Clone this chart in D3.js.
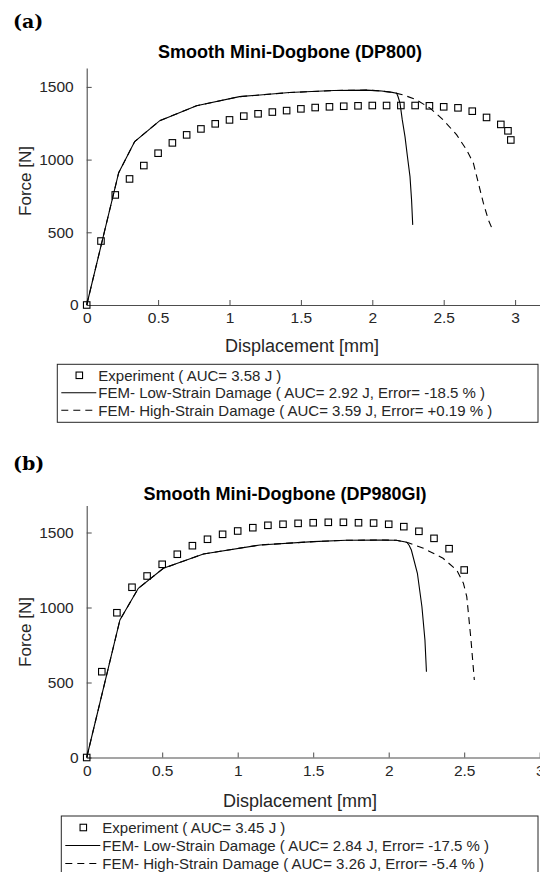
<!DOCTYPE html>
<html>
<head>
<meta charset="utf-8">
<script src="https://cdn.jsdelivr.net/npm/d3@7"></script>
<style>
  body { margin: 0; background: #fff; }
  svg { display: block; }
  text { font-family: 'Liberation Sans', Arial, sans-serif; fill: #262626; }
  .panel-tag { font-family: 'DejaVu Serif', serif; font-weight: bold; fill: #000; }
</style>
</head>
<body>
<div id="wrapper"></div>
<script>
// ---- data: panel (a) DP800 ----
const expDispA = [0, 0.1, 0.2, 0.3, 0.4, 0.5, 0.6, 0.7, 0.8, 0.9, 1.0, 1.1, 1.2, 1.3, 1.4, 1.5,
  1.6, 1.7, 1.8, 1.9, 2.0, 2.1, 2.2, 2.3, 2.4, 2.5, 2.6, 2.7, 2.8, 2.9, 2.95, 2.97]
const expForceA = [0, 440, 757, 867, 959, 1044, 1115, 1170, 1211, 1246, 1273, 1299, 1315, 1327, 1337, 1349,
  1358, 1363, 1367, 1370, 1372, 1372, 1372, 1372, 1370, 1363, 1356, 1333, 1290, 1242, 1198, 1135]
const lowDispA = [0, 0.224, 0.336, 0.512, 0.769, 1.07, 1.42, 1.73, 1.96, 2.05, 2.13, 2.17, 2.18,
  2.194, 2.21, 2.229, 2.246, 2.264, 2.275, 2.283]
const lowForceA = [0, 910, 1124, 1268, 1370, 1433, 1461, 1475, 1478, 1473, 1464, 1457, 1434,
  1388, 1273, 1158, 1021, 883, 722, 551]
const highDispA = [0, 0.224, 0.336, 0.512, 0.769, 1.07, 1.42, 1.73, 1.96, 2.05, 2.147, 2.217, 2.31,
  2.404, 2.497, 2.591, 2.66, 2.708, 2.743, 2.778, 2.813, 2.848]
const highForceA = [0, 910, 1124, 1268, 1370, 1433, 1461, 1475, 1478, 1473, 1461, 1445, 1411,
  1354, 1273, 1170, 1067, 975, 838, 700, 585, 504]

// ---- data: panel (b) DP980GI ----
const expDispB = [0, 0.1, 0.2, 0.3, 0.4, 0.5, 0.6, 0.7, 0.8, 0.9, 1.0, 1.1, 1.2, 1.3, 1.4, 1.5,
  1.6, 1.7, 1.8, 1.9, 2.0, 2.1, 2.2, 2.3, 2.4, 2.5]
const expForceB = [0, 572, 965, 1135, 1210, 1288, 1355, 1412, 1455, 1488, 1510, 1532, 1548, 1555, 1561, 1565,
  1568, 1568, 1565, 1563, 1555, 1539, 1508, 1461, 1392, 1250]
const lowDispB = [0, 0.22, 0.342, 0.508, 0.773, 1.148, 1.5, 1.72, 1.94, 2.05, 2.12, 2.135, 2.15,
  2.19, 2.22, 2.24, 2.25]
const lowForceB = [0, 917, 1128, 1261, 1357, 1417, 1439, 1448, 1450, 1448, 1435, 1415, 1383,
  1228, 1005, 783, 572]
const highDispB = [0, 0.22, 0.342, 0.508, 0.773, 1.148, 1.5, 1.72, 1.94, 2.05, 2.13, 2.23, 2.36,
  2.45, 2.495, 2.517, 2.53, 2.545, 2.556, 2.567]
const highForceB = [0, 917, 1128, 1261, 1357, 1417, 1439, 1448, 1450, 1448, 1432, 1395, 1328,
  1250, 1161, 1072, 939, 783, 650, 517]

// ---- ticks and labels ----
const xTicks = [0, 0.5, 1, 1.5, 2, 2.5, 3]
const yTicks = [0, 500, 1000, 1500]
const legendA = ['Experiment ( AUC= 3.58 J )',
  'FEM- Low-Strain Damage ( AUC= 2.92 J, Error= -18.5 % )',
  'FEM- High-Strain Damage ( AUC= 3.59 J, Error= +0.19 % )']
const legendB = ['Experiment ( AUC= 3.45 J )',
  'FEM- Low-Strain Damage ( AUC= 2.84 J, Error= -17.5 % )',
  'FEM- High-Strain Damage ( AUC= 3.26 J, Error= -5.4 % )']

const zip = (xs, ys) => xs.map((x, i) => ({ x: x, y: ys[i] }))

const svg = d3.select('#wrapper').append('svg')
  .attr('width', 540).attr('height', 872)

function drawPanel(p) {
  const g = svg.append('g')

  g.append('text').attr('class', 'panel-tag')
    .attr('x', 13).attr('y', p.tagY).style('font-size', '19px').text(p.tag)

  g.append('text')
    .attr('x', p.titleX).attr('y', p.titleY)
    .attr('text-anchor', 'middle')
    .style('font-size', '18px').style('font-weight', 'bold').style('fill', '#000')
    .text(p.title)

  const xScale = d3.scaleLinear().domain([0, 3.5])
    .range([p.left, p.left + 3.5 * p.xUnit])
  const yScale = d3.scaleLinear().domain([0, p.yMax])
    .range([p.bottom, p.bottom - p.yMax * p.yUnit])

  // axes (MATLAB-like, ticks inward, box off)
  const xAxis = g.append('g')
    .attr('transform', `translate(0,${p.bottom})`)
    .call(d3.axisBottom(xScale).tickValues(xTicks).tickSizeInner(-5).tickSizeOuter(0)
      .tickPadding(9).tickFormat(d3.format('')))
  const yAxis = g.append('g')
    .attr('transform', `translate(${p.left},0)`)
    .call(d3.axisLeft(yScale).tickValues(yTicks).tickSizeInner(-5).tickSizeOuter(0)
      .tickPadding(13).tickFormat(d3.format('')))
  ;[xAxis, yAxis].forEach((ax) => {
    ax.select('.domain').attr('stroke', '#4d4d4d').attr('stroke-width', 1.1)
    ax.selectAll('.tick line').attr('stroke', '#4d4d4d').attr('stroke-width', 1)
    ax.selectAll('.tick text').style('font-size', '15.5px').style('fill', '#262626')
      .style('font-family', "'Liberation Sans', Arial, sans-serif")
  })
  xAxis.selectAll('.tick text').attr('dy', '0.6em')
  yAxis.selectAll('.tick text').filter((d) => d === 0).attr('x', -8)

  g.append('text')
    .attr('x', p.xLabelX).attr('y', p.xLabelY).attr('text-anchor', 'middle')
    .style('font-size', '18px').text('Displacement [mm]')
  g.append('text')
    .attr('transform', `translate(${p.yLabelX},${p.yLabelY}) rotate(-90)`)
    .attr('text-anchor', 'middle')
    .style('font-size', '17px').text('Force [N]')

  const line = d3.line().x((d) => xScale(d.x)).y((d) => yScale(d.y))

  g.append('path').datum(zip(p.highDisp, p.highForce))
    .attr('d', line).attr('fill', 'none').attr('stroke', '#000')
    .attr('stroke-width', 1.1).attr('stroke-dasharray', '7,5')
  g.append('path').datum(zip(p.lowDisp, p.lowForce))
    .attr('d', line).attr('fill', 'none').attr('stroke', '#000')
    .attr('stroke-width', 1.1)

  const ms = 6.5
  g.selectAll('.exp').data(zip(p.expDisp, p.expForce)).enter()
    .append('rect').attr('class', 'exp')
    .attr('x', (d) => xScale(d.x) - ms / 2).attr('y', (d) => yScale(d.y) - ms / 2)
    .attr('width', ms).attr('height', ms)
    .attr('fill', 'none').attr('stroke', '#000').attr('stroke-width', 1.1)

  // legend
  const lg = g.append('g').attr('transform', `translate(${p.legX},${p.legY})`)
  lg.append('rect').attr('x', 0).attr('y', 0)
    .attr('width', 538 - p.legX).attr('height', p.legH)
    .attr('fill', '#fff').attr('stroke', '#262626').attr('stroke-width', 1)
  p.legend.forEach((label, i) => {
    const cy = p.legRow0 + i * p.legStep
    if (i === 0) {
      lg.append('rect').attr('x', 22 - ms / 2).attr('y', cy - ms / 2)
        .attr('width', ms).attr('height', ms)
        .attr('fill', 'none').attr('stroke', '#000').attr('stroke-width', 1.1)
    } else {
      lg.append('line').attr('x1', 4).attr('x2', 39).attr('y1', cy).attr('y2', cy)
        .attr('stroke', '#000').attr('stroke-width', 1.1)
        .attr('stroke-dasharray', i === 2 ? '7,5' : null)
    }
    lg.append('text').attr('x', 41).attr('y', cy).attr('dy', '0.35em')
      .style('font-size', '15px').text(label)
  })
}

drawPanel({
  tag: '(a)', tagY: 28, title: 'Smooth Mini-Dogbone (DP800)', titleX: 290, titleY: 58,
  left: 86.7, bottom: 305, xUnit: 142.8, yUnit: 72.7 / 500, yMax: 1630,
  xLabelX: 302, xLabelY: 352, yLabelX: 31, yLabelY: 181,
  expDisp: expDispA, expForce: expForceA, lowDisp: lowDispA, lowForce: lowForceA,
  highDisp: highDispA, highForce: highForceA,
  legend: legendA, legX: 57.3, legY: 364.3, legH: 58, legRow0: 11, legStep: 17.5
})

drawPanel({
  tag: '(b)', tagY: 470, title: 'Smooth Mini-Dogbone (DP980GI)', titleX: 285, titleY: 500,
  left: 86.7, bottom: 757.5, xUnit: 151, yUnit: 75 / 500, yMax: 1680,
  xLabelX: 300, xLabelY: 807, yLabelX: 31, yLabelY: 632,
  expDisp: expDispB, expForce: expForceB, lowDisp: lowDispB, lowForce: lowForceB,
  highDisp: highDispB, highForce: highForceB,
  legend: legendB, legX: 61.3, legY: 816, legH: 60, legRow0: 11.5, legStep: 18
})
</script>
</body>
</html>
